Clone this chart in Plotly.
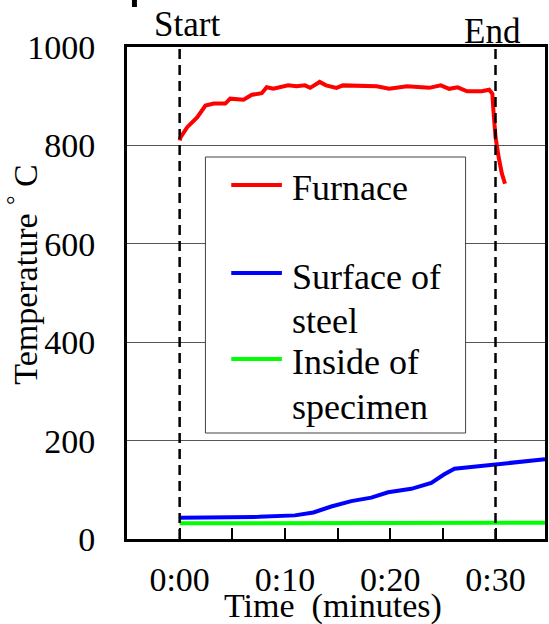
import plotly.graph_objects as go

# ---- data (time in minutes, temperature in deg C) ----
furnace_t = [0.0, 0.1, 0.72, 1.66, 2.45, 3.24, 4.34, 4.8, 6.07, 6.86, 7.8, 8.27, 8.9, 10.3, 11.1, 11.9,
             12.4, 13.3, 13.9, 14.9, 15.5, 16.5, 18.7, 19.9, 21.6, 23.7, 24.8, 25.6, 26.4, 27.3, 28.7,
             29.4, 29.7, 29.8, 30.0, 30.3, 30.6, 30.9]
furnace_v = [810, 817, 837, 857, 881, 885, 885, 895, 893, 903, 906, 918, 915, 922, 920, 922,
             917, 929, 922, 917, 922, 922, 920, 915, 920, 917, 922, 915, 918, 910, 910,
             913, 905, 871, 817, 776, 743, 722]

surface_t = [0.0, 3.0, 7.5, 10.95, 12.7, 14.4, 16.3, 18.2, 19.8, 22.0, 23.9, 25.1, 26.1, 27.0,
             29.5, 32.0, 34.7]
surface_v = [43, 43, 45, 48, 54, 66, 77, 84, 95, 102, 114, 131, 143, 145, 151, 156, 162]

inside_t = [0.0, 10.0, 20.0, 30.0, 34.7]
inside_v = [32, 32, 32, 32, 33]

series_names = [["Furnace"], ["Surface of", "steel"], ["Inside of", "specimen"]]
series_colors = ["#ff0000", "#0000ff", "#00ff00"]

events = [0, 30]
event_labels = ["Start", "End"]
x_tickvals = [0, 10, 20, 30]
x_ticktext = ["0:00", "0:10", "0:20", "0:30"]
y_tickvals = [0, 200, 400, 600, 800, 1000]

FONT = "Liberation Serif"

fig = go.Figure()
for (t, v), nm, col in zip([(furnace_t, furnace_v), (surface_t, surface_v), (inside_t, inside_v)],
                           series_names, series_colors):
    fig.add_trace(go.Scatter(x=t, y=v, mode="lines", name=" ".join(nm),
                             line=dict(color=col, width=4), showlegend=False))

W, H = 549, 624
L, R, T, B = 127, 1, 47, 85
pw, ph = W - L - R, H - T - B

def px(xp):
    return (xp - L) / pw

def py(yp):
    return (H - B - yp) / ph

shapes = []
for e in events:
    shapes.append(dict(type="line", xref="x", yref="paper", x0=e, x1=e, y0=0, y1=1,
                       line=dict(color="black", width=2.5, dash="10px,6px")))
shapes.append(dict(type="rect", xref="paper", yref="paper", x0=px(132), x1=px(137),
                   y0=py(7), y1=py(0), fillcolor="black", line=dict(width=0)))

annotations = [
    dict(text=event_labels[0], xref="x", yref="paper", x=events[0] + 0.7, y=py(24),
         xanchor="center", yanchor="middle",
         showarrow=False, font=dict(size=35, family=FONT, color="black")),
    dict(text=event_labels[1], xref="x", yref="paper", x=events[1] - 0.3, y=py(32),
         xanchor="center", yanchor="middle",
         showarrow=False, font=dict(size=35, family=FONT, color="black")),
    dict(text="Temperature <sup>°</sup> C", xref="paper", yref="paper", x=px(22), y=py(274),
         xanchor="center", yanchor="middle",
         textangle=-90, showarrow=False, font=dict(size=34, family=FONT, color="black")),
    dict(text="Time  (minutes)", xref="paper", yref="paper", x=px(334), y=py(606),
         xanchor="center", yanchor="middle",
         showarrow=False, font=dict(size=34, family=FONT, color="black")),
]

# ---- legend box drawn by hand (box, sample lines, labels) ----
shapes.append(dict(type="rect", xref="paper", yref="paper", x0=px(206), x1=px(468),
                   y0=py(433), y1=py(157), fillcolor="white",
                   line=dict(color="#444444", width=1), layer="above"))
sample_y = [185, 273, 359]
line_y = [[188], [277, 321], [362, 407]]
for sy, lines, col in zip(sample_y, series_names, series_colors):
    shapes.append(dict(type="line", xref="paper", yref="paper", x0=px(232), x1=px(283),
                       y0=py(sy), y1=py(sy), line=dict(color=col, width=4)))
for lines, ys in zip(series_names, line_y):
    for txt, yy in zip(lines, ys):
        annotations.append(dict(text=txt, xref="paper", yref="paper", x=px(291), y=py(yy),
                                xanchor="left", yanchor="middle", showarrow=False,
                                font=dict(size=36, family=FONT, color="black")))

fig.update_layout(
    width=W, height=H,
    margin=dict(l=L, r=R, t=T, b=B, pad=0),
    paper_bgcolor="white", plot_bgcolor="white",
    font=dict(family=FONT, size=34, color="black"),
    showlegend=False,
    shapes=shapes,
    annotations=annotations,
    xaxis=dict(range=[-5, 34.7], tickvals=x_tickvals, ticktext=x_ticktext,
               ticks="inside", ticklen=11, tickwidth=1.5, tickcolor="black",
               minor=dict(ticks="inside", dtick=5, tick0=0, ticklen=11, tickwidth=1.5,
                          tickcolor="black", showgrid=False),
               showgrid=False, zeroline=False, showline=True, linecolor="black",
               linewidth=3, mirror=True, ticklabelstandoff=8,
               tickfont=dict(size=34, family=FONT, color="black")),
    yaxis=dict(range=[0, 1000], tickvals=y_tickvals, ticks="", showgrid=True,
               gridcolor="#555555", gridwidth=1, zeroline=False, showline=True,
               linecolor="black", linewidth=3, mirror=True, ticklabelstandoff=22,
               tickfont=dict(size=34, family=FONT, color="black")),
)

fig.write_html("out.html")
